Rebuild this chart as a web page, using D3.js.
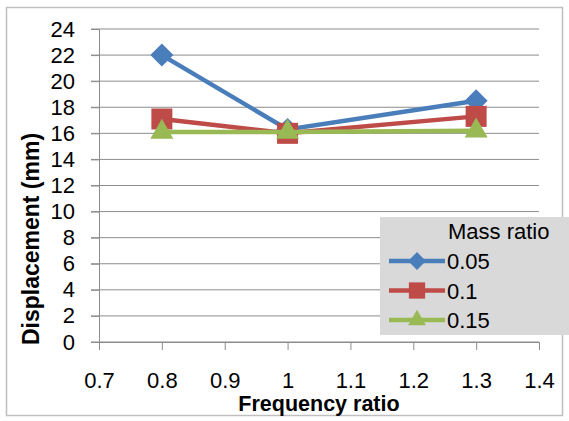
<!DOCTYPE html>
<html>
<head>
<meta charset="utf-8">
<script src="https://cdn.jsdelivr.net/npm/d3@7"></script>
<style>
  body { margin: 0; background: #fff; }
  svg { display: block; font-family: "Liberation Sans", Arial, sans-serif; }
</style>
</head>
<body>
<div id="chart"></div>
<script>
// chart data
const freqRatio = [0.8, 1, 1.3];
const seriesNames = ["0.05", "0.1", "0.15"];
const mass005 = [22.0, 16.3, 18.5];
const mass01 = [17.1, 16.0, 17.3];
const mass015 = [16.1, 16.1, 16.2];
const xTicks = [0.7, 0.8, 0.9, 1, 1.1, 1.2, 1.3, 1.4];
const yTicks = [0, 2, 4, 6, 8, 10, 12, 14, 16, 18, 20, 22, 24];

const width = 569, height = 421;
const margin = { top: 29, right: 30, bottom: 79, left: 99 };
const fontFamily = "'Liberation Sans', Arial, sans-serif";
const labelFont = "22px";

const svg = d3.select("#chart").append("svg")
  .attr("width", width)
  .attr("height", height);

// outer chart border
svg.append("rect")
  .attr("x", 6.5).attr("y", 7.5)
  .attr("width", 556).attr("height", 408)
  .attr("fill", "#fff")
  .attr("stroke", "#bfbfbf")
  .attr("stroke-width", 1.5);

const x = d3.scaleLinear()
  .domain([0.7, 1.4])
  .range([margin.left, width - margin.right]);

const y = d3.scaleLinear()
  .domain([0, 24])
  .range([height - margin.bottom, margin.top]);

// gridlines
svg.append("g")
  .selectAll("line")
  .data(yTicks)
  .join("line")
  .attr("x1", x(0.7) - 8).attr("x2", x(1.4))
  .attr("y1", d => y(d)).attr("y2", d => y(d))
  .attr("stroke", "#8c8c8c")
  .attr("stroke-width", 1);

// y axis
const yAxis = svg.append("g")
  .attr("transform", `translate(${x(0.7)},0)`)
  .call(d3.axisLeft(y).tickValues(yTicks).tickSize(8).tickPadding(16).tickFormat(d3.format("d")));
yAxis.select(".domain").attr("stroke", "#8c8c8c");
yAxis.selectAll(".tick line").attr("stroke", "#8c8c8c");
yAxis.selectAll("text")
  .attr("font-size", labelFont)
  .attr("fill", "#000")
  .attr("font-family", fontFamily);

// x axis
const xAxis = svg.append("g")
  .attr("transform", `translate(0,${y(0)})`)
  .call(d3.axisBottom(x).tickValues(xTicks).tickSize(8).tickPadding(22).tickFormat(d => String(d)));
xAxis.select(".domain").attr("stroke", "#8c8c8c");
xAxis.selectAll(".tick line").attr("stroke", "#8c8c8c");
xAxis.selectAll("text")
  .attr("font-size", labelFont)
  .attr("fill", "#000")
  .attr("font-family", fontFamily);

// axis titles
svg.append("text")
  .attr("x", 319)
  .attr("y", 411)
  .attr("text-anchor", "middle")
  .style("font-size", "21.5px")
  .style("font-weight", "bold")
  .text("Frequency ratio");

svg.append("text")
  .attr("transform", `translate(39,239) rotate(-90)`)
  .attr("text-anchor", "middle")
  .style("font-size", "23px")
  .style("font-weight", "bold")
  .text("Displacement (mm)");

// series
const diamond = { draw(ctx, size) { const r = Math.sqrt(size / 2); ctx.moveTo(0, -r); ctx.lineTo(r, 0); ctx.lineTo(0, r); ctx.lineTo(-r, 0); ctx.closePath(); } };
const series = [
  { name: seriesNames[0], values: mass005, color: "#4a7ebb", symbol: diamond, size: 265 },
  { name: seriesNames[1], values: mass01, color: "#be4b48", symbol: d3.symbolSquare, size: 441 },
  { name: seriesNames[2], values: mass015, color: "#98b954", symbol: d3.symbolTriangle, size: 230 }
];

const line = d3.line()
  .x((d, i) => x(freqRatio[i]))
  .y(d => y(d));

series.forEach(s => {
  svg.append("path")
    .datum(s.values)
    .attr("d", line)
    .attr("fill", "none")
    .attr("stroke", s.color)
    .attr("stroke-width", 4.5);
  svg.append("g")
    .selectAll("path")
    .data(s.values)
    .join("path")
    .attr("transform", (d, i) => `translate(${x(freqRatio[i])},${y(d)})`)
    .attr("d", d3.symbol().type(s.symbol).size(s.size))
    .attr("fill", s.color);
});

// legend
const legend = svg.append("g").attr("transform", "translate(380,217)");
legend.append("rect")
  .attr("width", 189).attr("height", 118)
  .attr("fill", "#d9d9d9");
legend.append("text")
  .attr("x", 68).attr("y", 22)
  .style("font-size", labelFont)
  .text("Mass ratio");

series.forEach((s, i) => {
  const ly = 44 + i * 29.5;
  legend.append("line")
    .attr("x1", 9).attr("x2", 65)
    .attr("y1", ly).attr("y2", ly)
    .attr("stroke", s.color)
    .attr("stroke-width", 4.5);
  legend.append("path")
    .attr("transform", `translate(37,${ly})`)
    .attr("d", d3.symbol().type(s.symbol).size(s.size * 0.6))
    .attr("fill", s.color);
  legend.append("text")
    .attr("x", 67).attr("y", ly + 8)
    .style("font-size", labelFont)
    .text(s.name);
});
</script>
</body>
</html>
